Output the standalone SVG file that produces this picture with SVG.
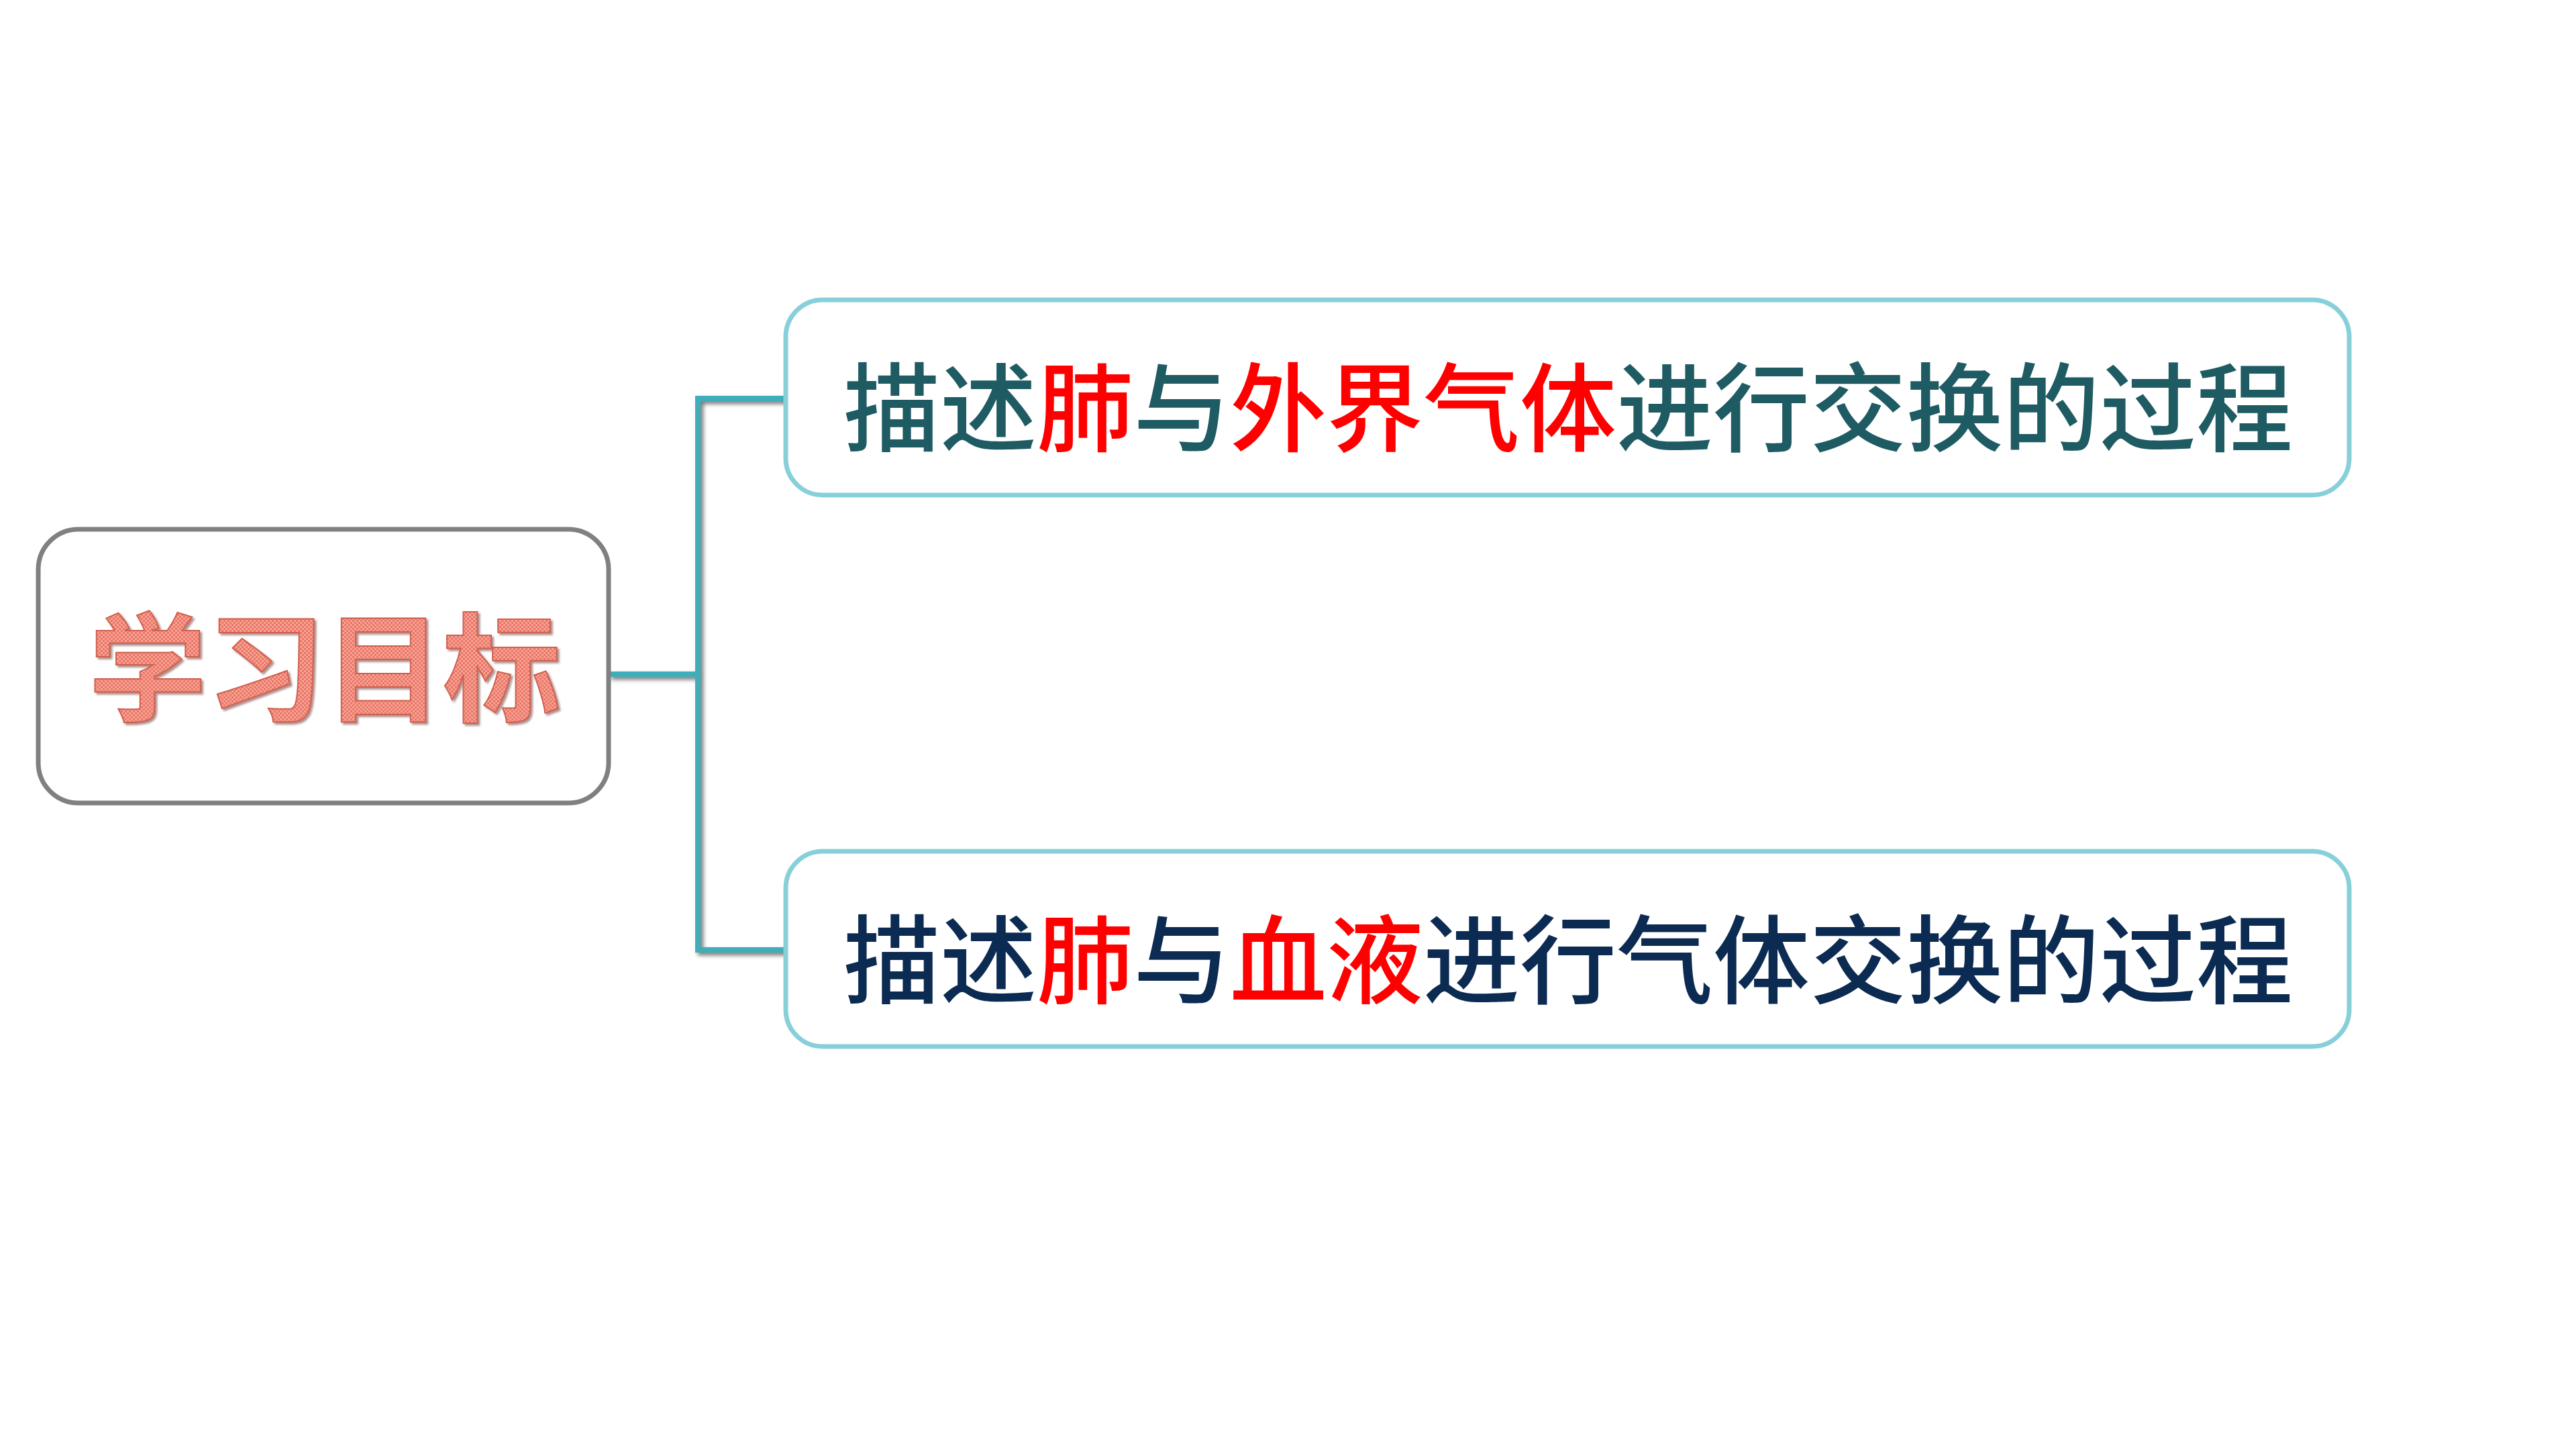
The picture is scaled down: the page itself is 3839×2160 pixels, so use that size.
<svg xmlns="http://www.w3.org/2000/svg" width="3839" height="2160" viewBox="0 0 3839 2160">
<style>
.box{fill:#FFFFFF;stroke:#88D0D9;stroke-width:7}
.root{fill:#FFFFFF;stroke:#808080;stroke-width:7}
.conn{fill:none;stroke:#41AEBA;stroke-width:8;stroke-linejoin:miter}
.t{font-family:"Noto Sans CJK SC","Noto Sans CJK TC",sans-serif;font-size:144px;font-weight:500}
.red{fill:#FF0000}
.title{font-family:"Noto Sans CJK SC","Noto Sans CJK TC",sans-serif;font-size:176px;font-weight:700}
</style>
<defs>
<filter id="sh" x="-20%" y="-20%" width="140%" height="140%">
<feDropShadow dx="4" dy="4" stdDeviation="3" flood-color="#000000" flood-opacity="0.55"/>
</filter>
<filter id="tsh" x="-10%" y="-10%" width="120%" height="120%">
<feDropShadow dx="3" dy="3" stdDeviation="1.5" flood-color="#7A4A44" flood-opacity="0.6"/>
</filter>
<pattern id="dots" width="6" height="6" patternUnits="userSpaceOnUse">
<rect width="6" height="6" fill="#EC7565"/>
<rect x="0" y="0" width="3" height="3" fill="#F4A497"/>
<rect x="3" y="3" width="3" height="3" fill="#F4A497"/>
</pattern>
</defs>
<rect width="3839" height="2160" fill="#FFFFFF"/>
<g id="connectors" filter="url(#sh)">
<path class="conn" d="M907 1005 H1040"/>
<path class="conn" d="M1172 594 H1040 V1416 H1172"/>
</g>
<g id="root">
<rect class="root" x="57" y="789" width="850" height="408" rx="60" ry="60"/>
<text class="title" x="484" y="1062" text-anchor="middle" fill="url(#dots)" stroke="#D0604F" stroke-width="2" filter="url(#tsh)">学习目标</text>
</g>
<g id="goal1">
<rect class="box" x="1171" y="447" width="2330" height="291" rx="55" ry="55"/>
<text class="t" x="2337" y="662" text-anchor="middle" fill="#1F5B63">描述<tspan class="red">肺</tspan>与<tspan class="red">外界气体</tspan>进行交换的过程</text>
</g>
<g id="goal2">
<rect class="box" x="1171" y="1269" width="2330" height="291" rx="55" ry="55"/>
<text class="t" x="2337" y="1485" text-anchor="middle" fill="#0B2B52">描述<tspan class="red">肺</tspan>与<tspan class="red">血液</tspan>进行气体交换的过程</text>
</g>
</svg>
